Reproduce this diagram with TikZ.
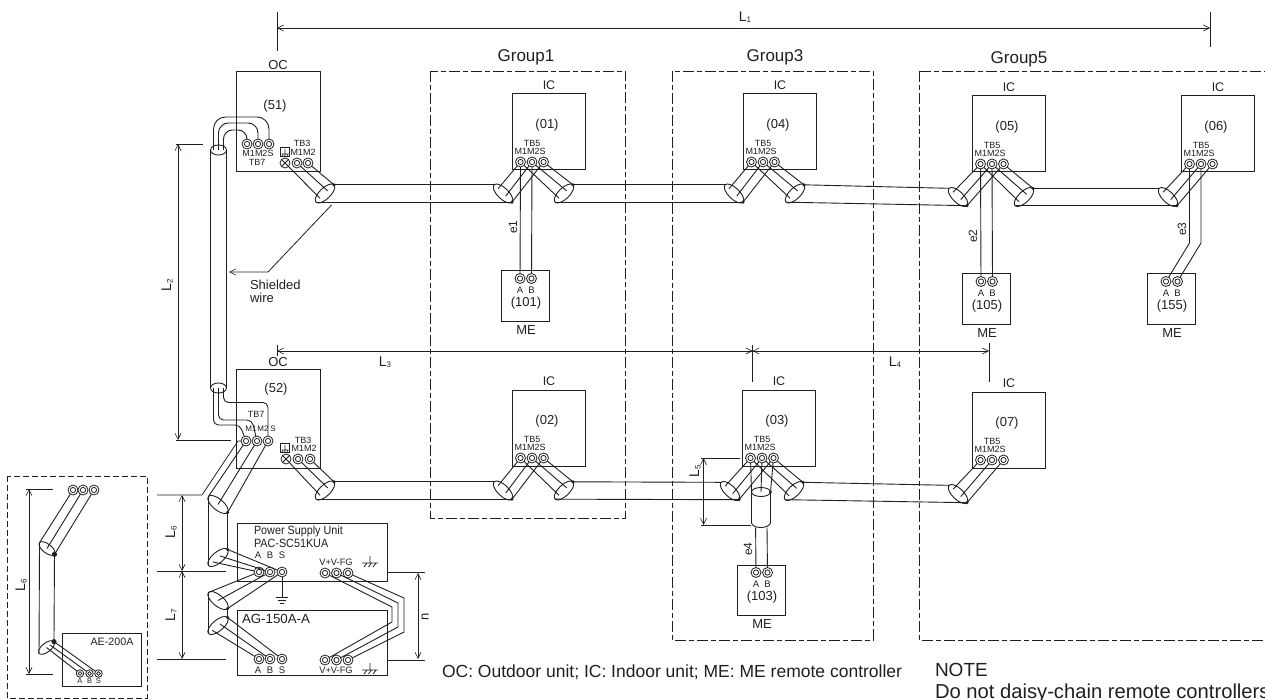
\documentclass[tikz,border=0pt]{standalone}
\usepackage{fontspec}
\setmainfont{Liberation Sans}
\newfontfamily\narrowf[FakeStretch=0.9]{Liberation Sans}
\usetikzlibrary{arrows.meta,shapes.geometric,calc}
\newcommand{\fs}[1]{\fontsize{#1}{#1}\selectfont}
\newcommand{\Ls}[1]{L\raisebox{-1.5pt}{\fs{8}#1}}
\definecolor{ink}{HTML}{231F20}
\tikzset{
  wire/.style={draw=ink,line width=0.9pt},
  thinln/.style={draw=ink,line width=0.8pt},
  dimln/.style={draw=ink,line width=0.8pt,{Straight Barb[length=6pt,width=6pt,line width=0.6pt]}-{Straight Barb[length=6pt,width=6pt,line width=0.6pt]}},
  unitbox/.style={draw=ink,line width=1pt,anchor=north west,inner sep=0pt,outer sep=0pt},
  groupbox/.style={draw=ink,line width=0.8pt,dash pattern=on 11pt off 3pt on 5pt off 3pt},
  lbl/.style={inner sep=0pt,outer sep=0pt,text=ink},
  term/.style={circle,draw=ink,line width=0.8pt,fill=white,minimum size=10pt,inner sep=0pt,outer sep=0pt,
     path picture={\draw[ink,line width=0.8pt] (path picture bounding box.center) circle (2.6pt);}},
  crossterm/.style={circle,draw=ink,line width=0.8pt,fill=white,minimum size=10pt,inner sep=0pt,outer sep=0pt,
     path picture={\draw[ink,line width=0.8pt] (path picture bounding box.south west) -- (path picture bounding box.north east)
        (path picture bounding box.north west) -- (path picture bounding box.south east);}},
  smallterm/.style={circle,draw=ink,line width=0.8pt,fill=white,minimum size=7.5pt,inner sep=0pt,outer sep=0pt,
     path picture={\draw[ink,line width=0.7pt] (path picture bounding box.center) circle (1.8pt);}},
  shield/.style={ellipse,draw=ink,line width=0.9pt,fill=white,minimum width=25pt,minimum height=11pt,inner sep=0pt,outer sep=0pt},
  smallshield/.style={ellipse,draw=ink,line width=0.9pt,fill=white,minimum width=19pt,minimum height=9pt,inner sep=0pt,outer sep=0pt},
}
\newcounter{tn}
\newcommand{\tx}[4][]{\stepcounter{tn}\node[lbl,#1] (txt\arabic{tn}) at (#2,#3) {#4};}
\newcommand{\trm}[4][term]{\node[#1] (#2) at (#3,#4) {};}
\newcommand{\shd}[4]{\node[shield,rotate=#4] (#1) at (#2,#3) {};}
\newcommand{\dotn}[2][1.7pt]{\fill[ink] (#2) circle (#1);}
% indoor unit: name, x, y, number
\newcommand{\icunit}[4]{\begin{scope}[shift={(#2,#3)}]
  \node[unitbox,minimum width=73.5pt,minimum height=76pt] (#1) at (0,0) {};
  \tx[font=\fs{12.5}]{37}{-9}{IC}
  \tx[font=\fs{13}]{35}{31}{(#4)}
  \tx[font=\fs{9}]{20}{49}{TB5}
  \tx[font=\fs{9}]{18}{57}{M1M2S}
  \trm{#1a}{8.5}{68}\trm{#1b}{20}{68}\trm{#1c}{31.5}{68}
\end{scope}}
% remote controller: name, x, y, number
\newcommand{\meunit}[4]{\begin{scope}[shift={(#2,#3)}]
  \node[unitbox,minimum width=48.5pt,minimum height=50pt] (#1) at (0,0) {};
  \trm{#1a}{19}{7.5}\trm{#1b}{30.5}{7.5}
  \tx[font=\fs{9.5}]{19}{19}{A}\tx[font=\fs{9.5}]{30.5}{19}{B}
  \tx[font=\fs{13}]{25}{32}{(#4)}
  \tx[font=\fs{13}]{25}{59}{ME}
\end{scope}}
% wires from three terminals into a shield ellipse: a, b, c, ellipse, west fraction, east fraction
\newcommand{\threex}[6]{\draw[wire] (#1) -- ($(#4.center)!#5!(#4.west)$) (#2) -- ($(#4.center)!#6!(#4.east)$) (#3) -- (#4.east);}
\newcommand{\three}[4]{\threex{#1}{#2}{#3}{#4}{0.55}{0.3}}
\newcommand{\cablespan}[2]{\draw[wire] (#1.east) -- (#2.west) (#1.west) -- (#2.east);}
% chassis earth symbol
\newcommand{\chassis}[2]{\begin{scope}[shift={(#1,#2)}]
  \draw[thinln] (0,-6) -- (0,1) (-8,1) -- (8,1) (-6,5) -- (-3,1) (-1.5,5) -- (1.5,1) (3,5) -- (6,1);
\end{scope}}
% small box-earth symbol of TB3
\newcommand{\tbsym}[2]{\begin{scope}[shift={(#1,#2)}]
  \draw[ink,line width=0.7pt] (-4.5,-4.5) rectangle (4.5,4.5);
  \draw[ink,line width=0.6pt] (0,-3) -- (0,2) (-3.5,2) -- (3.5,2) (-3,4) -- (-2,2) (-.5,4) -- (.5,2) (2,4) -- (3,2);
\end{scope}}
\begin{document}
\begin{tikzpicture}[x=1pt,y=-1pt]
\useasboundingbox (0,0) rectangle (1265,700);
\clip (0,0) rectangle (1265,700);
\fill[white] (0,0) rectangle (1265,700);

% ---------- groups
\draw[groupbox] (430.5,71) rectangle (625,518);
\draw[groupbox] (672,71) rectangle (873,640);
\draw[groupbox] (919,71) rectangle (1280,640);
\tx[font=\fs{17}]{526}{57}{Group1}
\tx[font=\fs{17}]{775}{57}{Group3}
\tx[font=\fs{17}]{1019}{59}{Group5}

% ---------- outdoor unit 51
\node[unitbox,minimum width=84pt,minimum height=100pt] (oc51) at (236,72) {};
\tx[font=\fs{13}]{278}{65}{OC}
\tx[font=\fs{13}]{275}{106}{(51)}
\trm{o51a}{247}{144}\trm{o51b}{258}{144}\trm{o51c}{269}{144}
\tx[font=\fs{9}]{258}{153}{M1M2S}
\tx[font=\fs{9}]{257}{162}{TB7}
\tx[font=\fs{9}]{302}{143}{TB3}
\tx[font=\fs{9}]{303}{152}{M1M2}
\tbsym{285}{152}
\trm[crossterm]{o51x}{285}{163}\trm{o51y}{297}{163}\trm{o51z}{308}{163}

% ---------- outdoor unit 52
\node[unitbox,minimum width=84pt,minimum height=99pt] (oc52) at (236,369) {};
\tx[font=\fs{13}]{278}{362}{OC}
\tx[font=\fs{13}]{276}{389}{(52)}
\trm{o52a}{246}{441}\trm{o52b}{257}{441}\trm{o52c}{268}{441}
\tx[font=\fs{9}]{256}{414}{TB7}
\tx[font=\fs{8}]{251}{429}{M1}
\tx[font=\fs{8}]{263}{429}{M2}
\tx[font=\fs{8}]{273}{429}{S}
\tx[font=\fs{9}]{303}{440}{TB3}
\tx[font=\fs{9}]{304}{448}{M1M2}
\tbsym{285}{448}
\trm[crossterm]{o52x}{286}{459}\trm{o52y}{298}{459}\trm{o52z}{310}{459}

% ---------- indoor units and remote controllers
\icunit{ic01}{512}{94}{01}
\icunit{ic04}{743}{94}{04}
\icunit{ic05}{972}{96}{05}
\icunit{ic06}{1181}{96}{06}
\icunit{ic02}{512}{390}{02}
\icunit{ic03}{742}{390}{03}
\icunit{ic07}{972}{392}{07}
\meunit{me101}{501}{271}{101}
\meunit{me105}{962}{274}{105}
\meunit{me155}{1147}{274}{155}
\meunit{me103}{737}{565}{103}

% ---------- top row shielded cable
\shd{r51}{325}{193.5}{44}
\shd{l01}{503}{193.5}{-44}
\shd{r01}{564}{193.5}{44}
\shd{l04}{734}{193.5}{-44}
\shd{r04}{795}{193.5}{44}
\shd{l05}{958}{197}{-44}
\shd{r05}{1024}{197}{44}
\shd{l06}{1168}{197}{-44}
\three{o51x}{o51y}{o51z}{r51}
\three{ic01a}{ic01b}{ic01c}{l01}
\three{ic01a}{ic01b}{ic01c}{r01}
\three{ic04a}{ic04b}{ic04c}{l04}
\three{ic04a}{ic04b}{ic04c}{r04}
\three{ic05a}{ic05b}{ic05c}{l05}
\three{ic05a}{ic05b}{ic05c}{r05}
\three{ic06a}{ic06b}{ic06c}{l06}
\cablespan{r51}{l01}\cablespan{r01}{l04}\cablespan{r04}{l05}\cablespan{r05}{l06}
\foreach \e in {r51,l01,r01,l04,r04,l05,r05,l06}{\dotn{\e.east}}

% ---------- bottom row shielded cable
\shd{r52}{325}{490.5}{44}
\shd{l02}{503}{490.5}{-44}
\shd{r02}{564}{490.5}{44}
\shd{l03}{730}{491}{-44}
\shd{r03}{794}{491}{44}
\shd{l07}{958}{494}{-44}
\three{o52x}{o52y}{o52z}{r52}
\three{ic02a}{ic02b}{ic02c}{l02}
\three{ic02a}{ic02b}{ic02c}{r02}
\three{ic03a}{ic03b}{ic03c}{l03}
\three{ic03a}{ic03b}{ic03c}{r03}
\three{ic07a}{ic07b}{ic07c}{l07}
\cablespan{r52}{l02}\cablespan{r02}{l03}\cablespan{r03}{l07}
\foreach \e in {r52,l02,r02,l03,r03,l07}{\dotn{\e.east}}

% ---------- remote controller wires
\draw[wire] (ic01a) -- (me101a) (ic01b) -- (me101b);
\tx[font=\fs{12},rotate=90]{513}{227}{e1}
\draw[wire] (ic05a) -- (me105a) (ic05b) -- (me105b);
\tx[font=\fs{12},rotate=90]{973}{236}{e2}
\draw[wire] (ic06a) -- (1189.5,243) -- (me155a) (ic06b) -- (1201,243) -- (me155b);
\tx[font=\fs{12},rotate=90]{1182}{229}{e3}

% ---------- branch cylinder under IC 03
\node[smallshield] (cyl) at (761,492) {};
\coordinate (cylL) at (751.5,523);
\coordinate (cylR) at (770.5,523);
\coordinate (cylA) at (755.6,527.5);
\coordinate (cylB) at (767,527.5);
\draw[wire] (cyl.west) -- (cylL) .. controls (753,529) and (768.5,529) .. (cylR) -- (cyl.east);
\threex{ic03a}{ic03b}{ic03c}{cyl}{1}{0}
\dotn{cyl.east}
\draw[wire] (cylA) -- (me103a) (cylB) -- (me103b);
\tx[font=\fs{12},rotate=90]{748}{549}{e4}

% ---------- long shielded cable between the outdoor units
\node[shield,minimum width=16pt,minimum height=10pt] (vt) at (218.5,150) {};
\node[shield,minimum width=16pt,minimum height=10pt] (vb) at (218.5,388) {};
\draw[wire] (vt.west) -- (vb.west) (vt.east) -- (vb.east);
\draw[wire,rounded corners=9pt] (o51a) |- (223.5,130) -- (223.5,150);
\draw[wire,rounded corners=10pt] (o51b) |- (218.5,123) -- (218.5,150);
\draw[wire,rounded corners=12pt] (o51c) |- (213.5,117) -- (213.5,150);
\draw[wire,rounded corners=5pt] (223.5,388) -- (223.5,402.5) -- (268,402.5) -- (o52c);
\draw[wire,rounded corners=5pt] (218.5,388) -- (218.5,420) -- (252,420) -- (o52b);
\draw[wire,rounded corners=5pt] (213.5,388) -- (213.5,425) -- (240,425) -- (o52a);

% ---------- power supply unit
\node[unitbox,minimum width=150pt,minimum height=58pt] (psu) at (237,523) {};
\tx[anchor=west,font=\narrowf\fs{12}]{254}{531}{Power Supply Unit}
\tx[anchor=west,font=\narrowf\fs{12}]{254}{543}{PAC-SC51KUA}
\tx[font=\fs{9.5}]{258}{555}{A}\tx[font=\fs{9.5}]{270}{555}{B}\tx[font=\fs{9.5}]{282}{555}{S}
\trm{pa}{259}{572}\trm{pb}{270}{572}\trm{ps}{282}{572}
\tx[font=\fs{9.3}]{336}{562}{V+V-FG}
\trm{pv}{325}{573}\trm{pw}{336.5}{573}\trm{pf}{348}{573}
\chassis{370}{562}

% ---------- AG-150A-A
\node[unitbox,minimum width=150pt,minimum height=65pt] (ag) at (237,610) {};
\tx[anchor=west,font=\fs{13.3}]{242}{619}{AG-150A-A}
\trm{aa}{259}{659}\trm{ab}{270}{659}\trm{as}{282}{659}
\tx[font=\fs{9.5}]{258}{670}{A}\tx[font=\fs{9.5}]{270}{670}{B}\tx[font=\fs{9.5}]{282}{670}{S}
\trm{av}{325}{660}\trm{aw}{336.5}{660}\trm{af}{348}{660}
\tx[font=\fs{9.3}]{336}{670}{V+V-FG}
\chassis{370}{669}

% ---------- cables at lower left
\shd{s1}{218}{504.5}{-40}
\shd{s2}{218}{557.5}{40}
\shd{s3}{218}{600.5}{-40}
\shd{s4}{218}{625.5}{40}
\threex{o52a}{o52b}{o52c}{s1}{1}{0}
\draw[wire] (s1.west) -- (s2.west) (s1.east) -- (s2.east);
\threex{pa}{pb}{ps}{s2}{0.55}{0.2}
\threex{pa}{pb}{ps}{s3}{1}{0}
\draw[wire] (s3.west) -- (s4.west) (s3.east) -- (s4.east);
\threex{aa}{ab}{as}{s4}{0.6}{0.2}
\foreach \e in {s1,s2,s3,s4}{\dotn{\e.east}}

% ---------- earth below the power supply unit
\coordinate (gnd) at (282,597);
\draw[thinln] (ps) -- (gnd);
\draw[thinln] (gnd) +(-6,0) -- +(6,0) (gnd) +(-4,3) -- +(4,3) (gnd) +(-2,6) -- +(2,6);

% ---------- power wires between the units
\draw[wire] (pv) -- (392,607) -- (392,622) -- (av);
\draw[wire] (pw) -- (398,603) -- (398,627) -- (aw);
\draw[wire] (pf) -- (404,598) -- (404,632) -- (af);

% ---------- dashed AE-200A frame
\draw[ink,line width=0.9pt,dash pattern=on 6pt off 3pt] (7,476) rectangle (147,698);
\node[unitbox,minimum width=79pt,minimum height=53pt] (ae) at (62,633) {};
\tx[font=\fs{10.7}]{112}{642}{AE-200A}
\trm[smallterm]{xa}{80}{673.5}\trm[smallterm]{xb}{89.5}{673.5}\trm[smallterm]{xs}{98.5}{673.5}
\tx[font=\fs{7.5}]{80}{681}{A}\tx[font=\fs{7.5}]{89.5}{681}{B}\tx[font=\fs{7.5}]{98.5}{681}{S}
\trm{ua}{73}{490}\trm{ub}{83}{490}\trm{uc}{94}{490}
\node[smallshield,rotate=-38] (f1) at (47,548.5) {};
\node[smallshield,rotate=38] (f2) at (46.5,647.5) {};
\threex{ua}{ub}{uc}{f1}{1}{0}
\draw[wire] (f1.west) -- (f2.west) (f1.east) -- (f2.east);
\threex{xa}{xb}{xs}{f2}{0}{0.45}
\dotn[2.6pt]{f1.east}\dotn[2.6pt]{f2.east}

% ---------- dimensions
\coordinate (d1a) at (277,28); \coordinate (d1b) at (1210,28);
\draw[dimln] (d1a) -- (d1b);
\draw[thinln] (277,12) -- (277,51) (1210,12) -- (1210,47);
\tx[font=\fs{14}]{745}{17}{\Ls{1}}

\coordinate (d2a) at (178,144); \coordinate (d2b) at (178,440);
\draw[dimln] (d2a) -- (d2b);
\draw[thinln] (176,144) -- (203,144) (176,440) -- (231,440);
\tx[font=\fs{14},rotate=90]{167}{285}{\Ls{2}}

\coordinate (d3a) at (277,351); \coordinate (d3b) at (752.5,351); \coordinate (d4b) at (989,351);
\draw[dimln] (d3a) -- (d3b);
\draw[dimln] (d3b) -- (d4b);
\draw[thinln] (277,345) -- (277,356) (752.5,345) -- (752.5,382) (989,343) -- (989,382);
\tx[font=\fs{14}]{385}{362}{\Ls{3}}
\tx[font=\fs{14}]{895}{362}{\Ls{4}}

\coordinate (d5a) at (703.5,458); \coordinate (d5b) at (703.5,525);
\draw[dimln] (d5a) -- (d5b);
\draw[thinln] (701,458) -- (740,458) (701,525) -- (751,525);
\tx[font=\fs{14},rotate=90]{695}{471}{\Ls{5}}

\coordinate (d6a) at (182,495); \coordinate (d6b) at (182,571); \coordinate (d7b) at (182,659);
\draw[dimln] (d6a) -- (d6b);
\draw[dimln] (d6b) -- (d7b);
\draw[thinln] (o52a) -- (238,441) -- (202,495) -- (157,495);
\draw[thinln] (157,571) -- (226,571) (157,659) -- (226,659);
\tx[font=\fs{14},rotate=90]{171}{532}{\Ls{6}}
\tx[font=\fs{14},rotate=90]{171}{615}{\Ls{7}}

\coordinate (d8a) at (29,489); \coordinate (d8b) at (29,674);
\draw[dimln] (d8a) -- (d8b);
\draw[thinln] (26,489) -- (53,489) (26,674) -- (53,674);
\tx[font=\fs{14},rotate=90]{21}{585}{\Ls{6}}

\coordinate (dna) at (418,573); \coordinate (dnb) at (418,659);
\draw[dimln] (dna) -- (dnb);
\draw[thinln] (387,572) -- (425,572) (387,660) -- (425,660);
\tx[font=\fs{13},rotate=90]{425}{617}{n}

% ---------- shielded wire leader
\coordinate (lead) at (229,272);
\draw[thinln,-{Straight Barb[length=6pt,width=6pt,line width=0.6pt]}] (331.5,205) -- (268,272) -- (lead);
\tx[anchor=west,font=\fs{13}]{250}{285}{Shielded}
\tx[anchor=west,font=\fs{13}]{250}{298}{wire}

% ---------- notes
\tx[anchor=west,font=\fs{17.5}]{442}{672.5}{OC: Outdoor unit; IC: Indoor unit; ME: ME remote controller}
\tx[anchor=west,font=\fs{19}]{935}{670}{NOTE}
\tx[anchor=west,font=\fs{20.2}]{935}{693}{Do not daisy-chain remote controllers}
\end{tikzpicture}
\end{document}
